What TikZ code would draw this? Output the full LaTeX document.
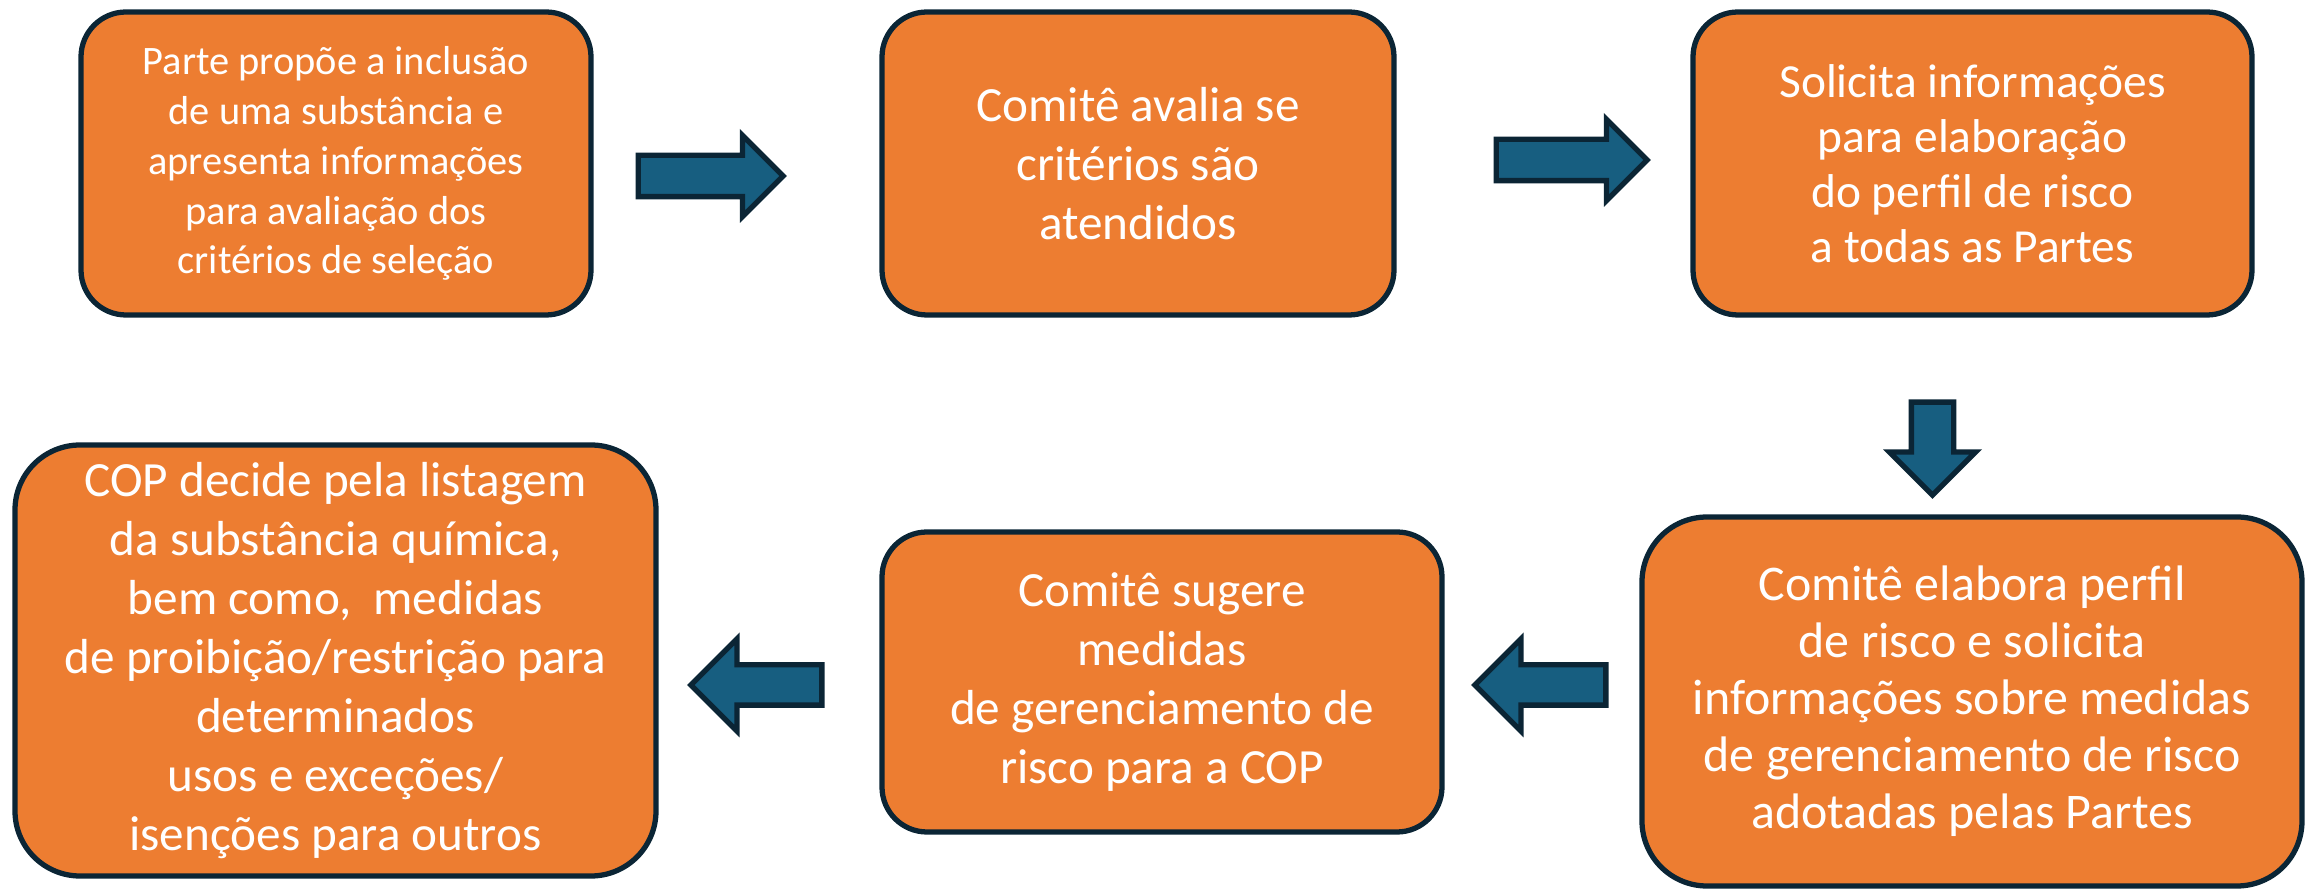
\documentclass[tikz,border=0pt]{standalone}
\usepackage{fontspec}
\setmainfont{Carlito}
\usepackage{tikz}
\usetikzlibrary{shapes.arrows, positioning}
\definecolor{flowOrange}{HTML}{ED7D31}
\definecolor{flowBlue}{HTML}{175E80}
\definecolor{flowNavy}{HTML}{0B2535}

\begin{document}
\begin{tikzpicture}[
  stage/.style={rectangle, rounded corners=0.45cm, draw=flowNavy, line width=1.5pt, fill=flowOrange, text=white, align=center, inner sep=0pt, font=\fontsize{14}{16.8}\selectfont},
  big/.style={stage, rounded corners=0.65cm},
  blk/.style={single arrow, draw=flowNavy, line width=1.5pt, fill=flowBlue, inner sep=0.18cm, single arrow head extend=0.2cm, single arrow tip angle=90, anchor=tail}]
  \useasboundingbox (0,0) rectangle (23.05,8.89);
  % top row
  \node[stage, minimum width=5.1cm, minimum height=3.03cm, font=\fontsize{11.5}{14.2}\selectfont] (prop) at (3.36,7.255)
    {Parte propõe a inclusão\\de uma substância e\\apresenta informações\\para avaliação dos\\critérios de seleção};
  \node[stage, minimum width=5.12cm, minimum height=3.03cm] (aval) at (11.38,7.255)
    {Comitê avalia se\\critérios são\\atendidos};
  \node[stage, minimum width=5.59cm, minimum height=3.03cm, font=\fontsize{13.5}{15.6}\selectfont] (soli) at (19.725,7.255)
    {Solicita informações\\para elaboração\\do perfil de risco\\a todas as Partes};
  % bottom row
  \node[big, minimum width=6.6cm, minimum height=3.69cm, font=\fontsize{14.2}{16.2}\selectfont] (perf) at (19.72,1.875)
    {Comitê elabora perfil\\de risco e solicita\\informações sobre medidas\\de gerenciamento de risco\\adotadas pelas Partes};
  \node[stage, minimum width=5.6cm, minimum height=3.0cm] (sug) at (11.62,2.07)
    {Comitê sugere\\medidas\\de gerenciamento de\\risco para a COP};
  \node[big, minimum width=6.41cm, minimum height=4.31cm] (cop) at (3.355,2.285)
    {COP decide pela listagem\\da substância química,\\bem como,~ medidas\\de proibição/restrição para\\determinados\\usos e exceções/\\isenções para outros};
  % block arrows
  \node[blk, minimum height=1.45cm] (a1) at (6.355,7.13) {};
  \node[blk, minimum height=1.51cm] (a2) at (14.935,7.29) {};
  \node[blk, minimum height=0.93cm, shape border rotate=270, inner sep=0.185cm, single arrow head extend=0.22cm] (a3) at (19.325,4.895) {};
  \node[blk, minimum height=1.31cm, shape border rotate=180, inner sep=0.175cm, single arrow head extend=0.26cm] (a4) at (16.085,2.04) {};
  \node[blk, minimum height=1.31cm, shape border rotate=180, inner sep=0.175cm, single arrow head extend=0.26cm] (a5) at (8.245,2.04) {};
\end{tikzpicture}
\end{document}
